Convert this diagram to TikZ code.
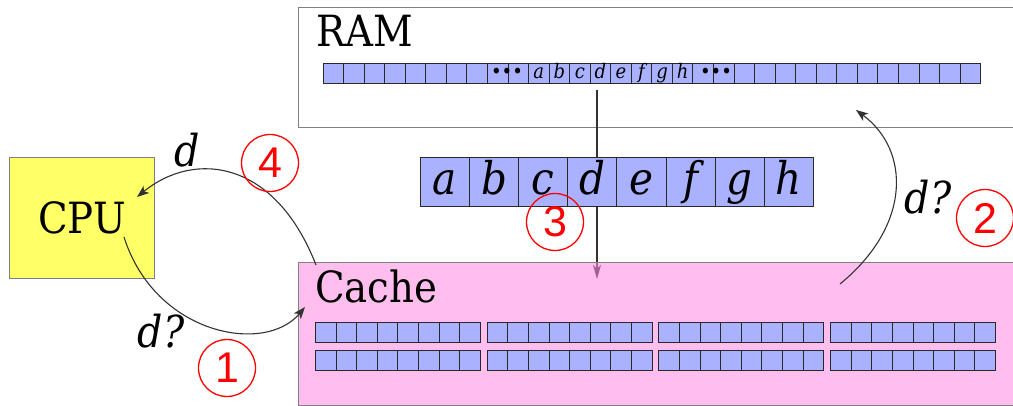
\documentclass[tikz,border=0pt]{standalone}
\usepackage{fontspec}
\setmainfont{DejaVu Serif Condensed}
\newfontfamily\numfont{Liberation Sans}
\usetikzlibrary{arrows.meta}
\definecolor{cellblue}{RGB}{170,178,255}
\definecolor{cachepink}{RGB}{255,137,224}
\definecolor{cpuyellow}{RGB}{255,255,102}
\definecolor{boxgray}{RGB}{128,128,128}
\definecolor{linegray}{RGB}{50,50,50}
\definecolor{celledge}{RGB}{40,40,40}
\tikzset{
  box/.style={draw=boxgray, line width=1.3pt, inner sep=0pt},
  cell/.style={draw=celledge, fill=cellblue, line width=0.9pt},
  circ/.style={circle, draw=red, line width=1.3pt, minimum size=57pt, inner sep=0pt, text=red, font=\numfont\fontsize{43}{43}\selectfont},
  conn/.style={draw=linegray, line width=1.1pt, -{Stealth[length=12pt,width=9pt,inset=3pt]}},
  vconn/.style={draw=linegray, line width=1.1pt, -{Stealth[length=14pt,width=8pt,inset=4pt]}},
  lbl/.style={inner sep=0pt, font=\itshape\fontsize{44}{44}\selectfont},
  title/.style={inner sep=0pt, font=\fontsize{43}{43}\selectfont},
  small/.style={inner sep=0pt, font=\itshape\fontsize{20}{20}\selectfont},
  big/.style={inner sep=0pt, font=\itshape\fontsize{45}{45}\selectfont},
}
\begin{document}
\begin{tikzpicture}[x=1pt,y=-1pt]
\useasboundingbox (0,0) rectangle (1013,406);
\clip (0,0) rectangle (1013,406);
% RAM
\node[box, fill=white, anchor=north west, minimum width=730pt, minimum height=120pt] (ram) at (298,7) {};
\node[title, anchor=base west] (ramlabel) at (316,47) {RAM};
\foreach \i in {0,...,31} \draw[cell] ({323+20.55*\i},63) rectangle ++(20.55,20);
\foreach \l [count=\k from 10] in {a,b,c,d,e,f,g,h}
  \node[small, anchor=base] (r\l) at ({323+20.55*\k+10.27},79) {\l};
\node[inner sep=0pt, font=\fontsize{20}{20}\selectfont, anchor=base] (dots1) at (507,79) {•••};
\node[inner sep=0pt, font=\fontsize{20}{20}\selectfont, anchor=base] (dots2) at (716,79) {•••};
% line 3
\coordinate (s3) at (597,90);
\coordinate (e3) at (597,279);
\draw[vconn] (s3) -- (e3);
% middle cells
\foreach \l [count=\k from 0] in {a,b,c,d,e,f,g,h}{
  \draw[cell] ({420.5+49.1*\k},157.3) rectangle ++(49.1,48.7);
  \node[big, anchor=base] (m\l) at ({420.5+49.1*\k+24.5},195) {\l};
}
% Cache
\node[box, fill=cachepink, fill opacity=0.55, anchor=north west, minimum width=730pt, minimum height=143pt] (cache) at (298,262) {};
\node[title, anchor=base west] (cachelabel) at (315,303) {Cache};
\foreach \g in {0,...,3} \foreach \r in {0,1} \foreach \i in {0,...,7}
  \draw[cell] ({315.5+171.7*\g+20.6*\i},{322+28*\r}) rectangle ++(20.6,20.5);
% CPU
\node[box, fill=cpuyellow, minimum width=145pt, minimum height=121pt, font=\fontsize{43}{43}\selectfont] (cpu) at (82,217.8) {CPU};
% arrows
\coordinate (s1) at (124,237);
\coordinate (e1) at (305,307);
\draw[conn] (s1) .. controls (155,335) and (265,355) .. (e1);
\coordinate (s4) at (316,265);
\coordinate (e4) at (137,197);
\draw[conn] (s4) .. controls (275,160) and (195,150) .. (e4);
\coordinate (s2) at (840,284);
\coordinate (e2) at (856,110);
\draw[conn] (s2) .. controls (912,225) and (910,150) .. (e2);
% labels
\node[lbl] (l4) at (187,150) {d};
\node[lbl] (l1) at (161,331) {d?};
\node[lbl] (l2) at (928,197) {d?};
% circles
\node[circ] (c1) at (227,368) {1};
\node[circ] (c2) at (985,218) {2};
\node[circ] (c3) at (555,222) {3};
\node[circ] (c4) at (270,163) {4};
\end{tikzpicture}
\end{document}
